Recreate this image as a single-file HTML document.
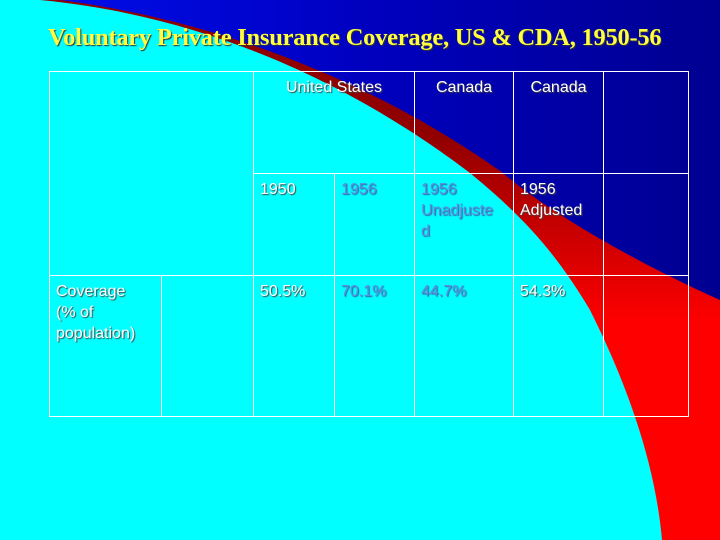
<!DOCTYPE html>
<html><head><meta charset="utf-8"><style>
html,body{margin:0;width:720px;height:540px;overflow:hidden}
body{position:relative;background:linear-gradient(90deg,#0010f0 0%,#0000c0 50%,#000090 100%);font-family:"Liberation Sans",sans-serif}
svg{position:absolute;left:0;top:0}
.t{position:absolute;left:48px;top:24px;font-family:"Liberation Serif",serif;font-weight:bold;font-size:24.4px;letter-spacing:-0.2px;color:#ffff40;text-shadow:1px 1px 1px #333;white-space:nowrap}
table{position:absolute;left:49px;top:71px;border-collapse:collapse;table-layout:fixed}
td{border:1px solid #fff;vertical-align:top;padding:5px 6px;font-size:16px;line-height:21px;color:#fff;text-shadow:1px 1px 1px #444;box-sizing:border-box;overflow:hidden;white-space:nowrap}
.b{color:#5a8fe0;text-shadow:1px 1px 1px #3060a0}
.c{text-align:center}
</style></head><body>
<svg width="720" height="540">
<defs><linearGradient id="rg" x1="0" y1="0" x2="0" y2="540" gradientUnits="userSpaceOnUse"><stop offset="0.25" stop-color="#900000"/><stop offset="0.6" stop-color="#ff0000"/></linearGradient></defs>
<path d="M0,0 L60,0 C250,25 400,100 503,173 C540,205 620,255 720,300 L720,540 L0,540 Z" fill="url(#rg)"/>
<path d="M0,0 L40,0 C250,20 400,120 470,173 C530,222 560,260 590,310 C625,380 655,460 662,540 L0,540 Z" fill="#00ffff"/>
</svg>
<div class="t">Voluntary Private Insurance Coverage, US &amp; CDA, 1950-56</div>
<table>
<colgroup><col style="width:112px"><col style="width:92px"><col style="width:81px"><col style="width:80px"><col style="width:99px"><col style="width:90px"><col style="width:85px"></colgroup>
<tr style="height:102px"><td colspan="2" rowspan="2"></td><td colspan="2" class="c">United States</td><td class="c">Canada</td><td class="c">Canada</td><td></td></tr>
<tr style="height:102px"><td>1950</td><td class="b">1956</td><td class="b">1956<br>Unadjuste<br>d</td><td>1956<br>Adjusted</td><td></td></tr>
<tr style="height:141px"><td>Coverage<br>(% of<br>population)</td><td></td><td>50.5%</td><td class="b">70.1%</td><td class="b">44.7%</td><td>54.3%</td><td></td></tr>
</table>
</body></html>
